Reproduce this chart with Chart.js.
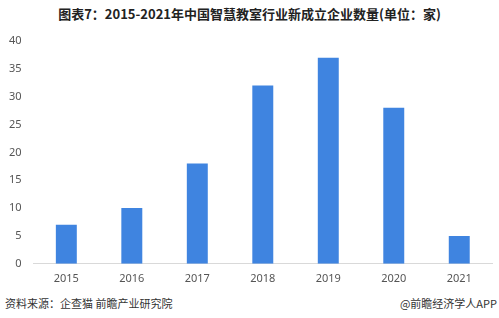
<!DOCTYPE html>
<html>
<head>
<meta charset="utf-8">
<script src="https://cdn.jsdelivr.net/npm/chart.js@4"></script>
<style>
  html, body { margin: 0; padding: 0; background: #fff; }
  body { width: 499px; height: 318px; position: relative; overflow: hidden;
         font-family: "Noto Sans CJK SC", "Noto Sans", sans-serif; }
  #title { position: absolute; top: 4px; left: 0; width: 499px; text-align: center;
           font-size: 13px; font-weight: bold; color: #222; }
  #box { position: absolute; left: 0; top: 26px; width: 499px; height: 259px; }
  #src { position: absolute; left: 5px; top: 295px; font-size: 11px; color: #333; }
  #app { position: absolute; right: 2px; top: 295px; font-size: 11px; color: #333; }
</style>
</head>
<body>
<div id="title">图表7：2015-2021年中国智慧教室行业新成立企业数量(单位：家)</div>
<div id="box"><canvas id="chart"></canvas></div>
<div id="src">资料来源：企查猫 前瞻产业研究院</div>
<div id="app">@前瞻经济学人APP</div>
<script>
const years = ['2015', '2016', '2017', '2018', '2019', '2020', '2021'];
const companies = [7, 10, 18, 32, 37, 28, 5];
const yTicks = [0, 5, 10, 15, 20, 25, 30, 35, 40];

function main(){
  const ctx = document.getElementById('chart').getContext('2d');
  new Chart(ctx, {
    type: 'bar',
    data: {
      labels: years,
      datasets: [{
        label: '新成立企业数量',
        data: companies,
        backgroundColor: '#3f84e0',
        barPercentage: 0.64,
        categoryPercentage: 0.5
      }]
    },
    options: {
      responsive: true,
      maintainAspectRatio: false,
      animation: false,
      layout: { padding: { left: 5, right: 7, top: 15, bottom: 0 } },
      plugins: { legend: { display: false }, tooltip: { enabled: false } },
      scales: {
        x: {
          grid: { display: false },
          border: { display: true, color: '#d9d9d9', width: 1 },
          ticks: { color: '#555', font: { size: 11, family: 'Noto Sans' }, padding: 0 }
        },
        y: {
          min: 0, max: 40,
          afterBuildTicks: axis => { axis.ticks = yTicks.map(v => ({ value: v })); },
          grid: { display: false },
          border: { display: false },
          ticks: { color: '#555', font: { size: 11, family: 'Noto Sans' }, padding: 4 }
        }
      }
    }
  });
}

main();
</script>
</body>
</html>
